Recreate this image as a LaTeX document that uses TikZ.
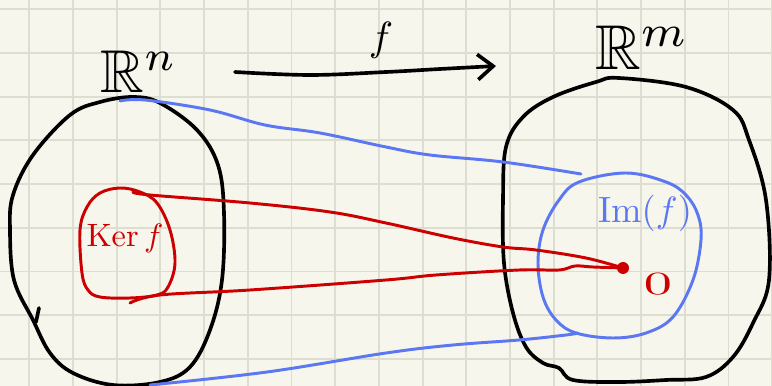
\documentclass[tikz,border=0pt]{standalone}
\usepackage{amsmath, amssymb, graphicx}
\usetikzlibrary{arrows.meta}

\definecolor{paper}{HTML}{F7F6EC}
\definecolor{gridline}{HTML}{DEDDD2}
\definecolor{bluepen}{HTML}{5B78F2}
\definecolor{redpen}{HTML}{CC0000}

\begin{document}
\begin{tikzpicture}[x=0.025cm, y=-0.025cm, line cap=round, line join=round,
  ink/.style={line width=2.6pt, black},
  blueink/.style={line width=2.1pt, bluepen},
  redink/.style={line width=2.1pt, redpen}]
% Paper with grid
\useasboundingbox (0,0) rectangle (772,386);
\fill[paper] (0,0) rectangle (772,386);
\foreach \k in {0,...,17}
  \draw[gridline, line width=1.4pt] (29.3+43.7*\k,0) -- (29.3+43.7*\k,386);
\foreach \k in {0,...,8}
  \draw[gridline, line width=1.4pt] (0,9.3+43.7*\k) -- (772,9.3+43.7*\k);

% Domain and codomain (black)
\draw[ink] plot[smooth cycle, tension=0.6] coordinates {(133,97) (160,103) (197,130) (218,165) (224,213) (222,280) (210,330) (190,367) (160,382) (113,385) (73,373) (50,353) (33,320) (14,280) (10,230) (13,195) (33,155) (70,115) (100,102)};
\draw[ink] (39,308) -- (36,322);
\draw[ink] plot[smooth cycle, tension=0.6] coordinates {(619,78) (686,87) (733,110) (749,140) (766,200) (769,280) (753,323) (733,357) (706,377) (666,380) (619,382) (573,380) (559,368) (543,363) (526,347) (513,313) (504,263) (503,200) (506,147) (523,117) (553,97) (596,82)};

% Kernel and image
\draw[redink] plot[smooth cycle, tension=0.6] coordinates {(120,188) (140,192) (157,203) (170,230) (175,263) (168,287) (157,295) (130,298) (100,297) (88,290) (82,273) (80,230) (87,207) (100,193)};
\draw[blueink] plot[smooth cycle, tension=0.6] coordinates {(626,173) (666,182) (686,195) (698,215) (701,240) (693,280) (673,317) (646,333) (613,338) (576,333) (556,320) (543,297) (538,263) (543,230) (559,200) (579,182)};

% Labels
\node (Rn) at (139,72) {\scalebox{4.3}{$\mathbb{R}^n$}};
\node (Rm) at (642,48) {\scalebox{4.5}{$\mathbb{R}^m$}};
\node (flabel) at (381,40) {\scalebox{2.9}{$f$}};
\node[redpen] (ker) at (125,238) {\scalebox{2.3}{$\mathrm{Ker}\, f$}};
\node[bluepen] (im) at (645,213) {\scalebox{2.6}{$\mathrm{Im}(f)$}};
\node[redpen] (zero) at (658,284) {\scalebox{4}[2.3]{$0$}};

% Endpoints of connectors
\coordinate (fStart) at (235,72);
\coordinate (fEnd) at (496,66);
\coordinate (rnTop) at (120,101);
\coordinate (imTop) at (581,174);
\coordinate (rnBot) at (150,385);
\coordinate (imBot) at (578,333);
\coordinate (kerTop) at (133,192);
\coordinate (kerBot) at (130,303);
\coordinate (zeroDot) at (623,268);

% The map f
\draw[ink, -{Straight Barb[length=11pt, width=18pt, line width=2.6pt]}] plot[smooth, tension=0.6] coordinates {(fStart) (310,75) (386,72) (440,69) (fEnd)};

% Images of the whole space
\draw[blueink] plot[smooth, tension=0.6] coordinates {(rnTop) (145,100) (210,110) (265,125) (320,133) (386,147) (430,155) (503,162) (imTop)};
\draw[blueink] plot[smooth, tension=0.6] coordinates {(rnBot) (267,372) (386,353) (453,345) (519,340) (566,335) (imBot)};

% Kernel sent to zero
\draw[redink] plot[smooth, tension=0.6] coordinates {(kerTop) (150,195) (250,203) (330,212) (386,223) (453,238) (503,247) (536,250) (586,258) (zeroDot)};
\draw[redink] plot[smooth, tension=0.6] coordinates {(kerBot) (160,295) (250,290) (386,280) (436,275) (519,270) (559,270) (575,266) (593,267) (zeroDot)};
\fill[redpen] (zeroDot) circle (6);
\end{tikzpicture}
\end{document}
